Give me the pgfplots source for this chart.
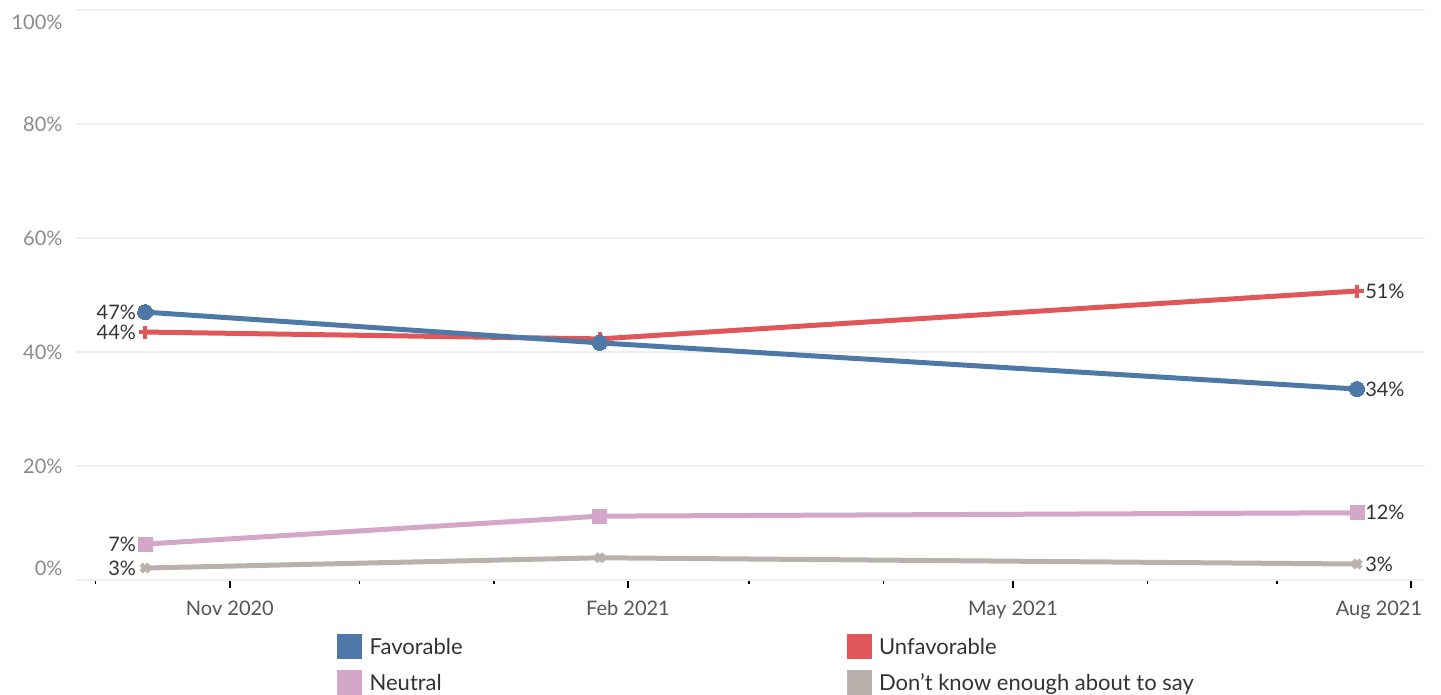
\documentclass[border=0pt]{standalone}
\usepackage{fontspec}
\setmainfont{Lato}
\usepackage{pgfplots}
\pgfplotsset{compat=1.18}
\definecolor{fav}{HTML}{4E79A7}
\definecolor{unf}{HTML}{E15759}
\definecolor{neu}{HTML}{D4A6C8}
\definecolor{dk}{HTML}{BAB0AC}
\definecolor{ylab}{HTML}{8A8A8A}
\definecolor{xlab}{HTML}{555555}
\definecolor{dlab}{HTML}{333333}
\definecolor{gridc}{HTML}{EFEFEF}
\begin{document}
\begin{tikzpicture}[x=1pt,y=1pt]
\path[use as bounding box] (0,0) rectangle (1441,694);
\begin{axis}[
  at={(75pt,114pt)}, anchor=south west,
  scale only axis, width=1350pt, height=570pt,
  xmin=-35.8, xmax=276.2, ymin=0, ymax=100,
  axis x line*=bottom, axis y line*=left,
  x axis line style={draw=gridc, line width=1.5pt},
  y axis line style={draw=none},
  xtick={0,92,181,273},
  xticklabels={Nov 2020,Feb 2021,May 2021,\makebox[22pt][r]{Aug 2021}},
  minor xtick={-31,30,61,120,151,212,242},
  tick align=outside,
  major tick length=8pt, minor tick length=4pt,
  xtick style={draw=black, line width=1.6pt},
  minor x tick style={draw=black, line width=1.3pt},
  xticklabel style={font=\fontsize{20}{20}\selectfont, text=xlab, yshift=-9pt},
  ytick={2.1,20,40,60,80,97.9},
  yticklabels={0\%,20\%,40\%,60\%,80\%,100\%},
  ytick style={draw=none},
  yticklabel style={font=\fontsize{20}{20}\selectfont, text=ylab, xshift=-1pt},
  extra y ticks={20,40,60,80,100},
  extra y tick labels={},
  extra y tick style={grid=major, major grid style={draw=gridc, line width=1.5pt}, ytick style={draw=none}},
  clip=false,
  legend image code/.code={\fill (0pt,-11pt) rectangle (24pt,13pt);},
  legend style={at={(axis description cs:0.1941,-0.0947)}, anchor=north west,
    draw=none, fill=none, inner sep=0pt, column sep=8pt, row sep=11pt,
    nodes={inner sep=0pt, font=\fontsize{22}{22}\selectfont, text=dlab}},
  legend columns=2,
  legend cell align=left,
]
\addlegendimage{color=fav}
\addlegendentry{\makebox[469pt][l]{Favorable}}
\addlegendimage{color=unf}
\addlegendentry{Unfavorable}
\addlegendimage{color=neu}
\addlegendentry{Neutral}
\addlegendimage{color=dk}
\addlegendentry{Don’t know enough about to say}

\addplot[forget plot, color=dk, line width=5pt, mark=x, mark size=5.5pt, mark options={line width=4.5pt}]
  coordinates {(-19.6,2.1) (85.5,3.9) (260.5,2.8)};
\addplot[forget plot, color=neu, line width=5pt, mark=square*, mark size=7pt, mark options={line width=0pt}]
  coordinates {(-19.6,6.3) (85.5,11.2) (260.5,11.8)};
\addplot[forget plot, color=unf, line width=5pt, mark=+, mark size=6.5pt, mark options={line width=4.5pt}]
  coordinates {(-19.6,43.5) (85.5,42.3) (260.5,50.7)};
\addplot[forget plot, color=fav, line width=5pt, mark=*, mark size=7.5pt, mark options={line width=0pt}]
  coordinates {(-19.6,47.0) (85.5,41.6) (260.5,33.5)};

\addplot[forget plot, draw=none, mark=none, nodes near coords, point meta=explicit symbolic,
  nodes near coords style={anchor=east, inner sep=0pt, xshift=-9pt, yshift=0pt,
    font=\fontsize{20}{20}\selectfont, text=dlab}]
  coordinates {(-19.6,47.0)[47\%] (-19.6,43.5)[44\%] (-19.6,6.3)[7\%] (-19.6,2.1)[3\%]};
\addplot[forget plot, draw=none, mark=none, nodes near coords, point meta=explicit symbolic,
  nodes near coords style={anchor=west, inner sep=0pt, xshift=8pt, yshift=0pt,
    font=\fontsize{20}{20}\selectfont, text=dlab}]
  coordinates {(260.5,50.7)[51\%] (260.5,33.5)[34\%] (260.5,11.8)[12\%] (260.5,2.8)[3\%]};
\end{axis}
\end{tikzpicture}
\end{document}
